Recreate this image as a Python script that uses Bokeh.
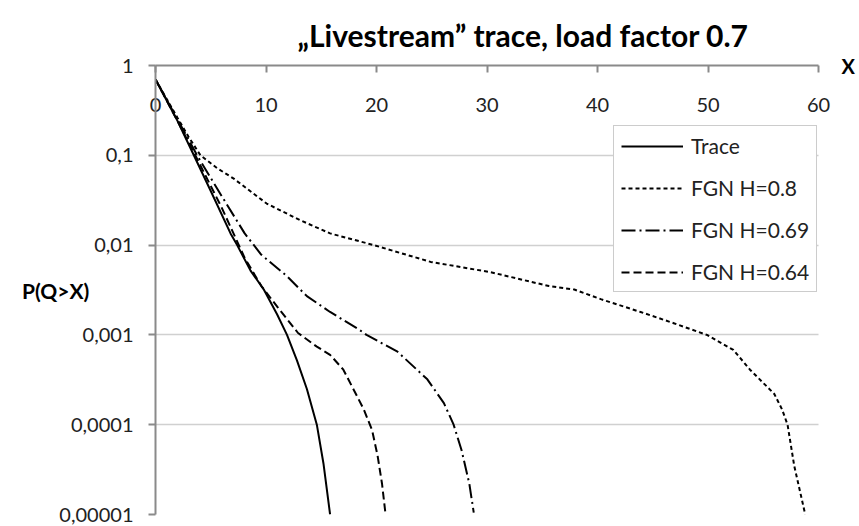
from bokeh.plotting import figure
from bokeh.models import FixedTicker, Legend, LegendItem, LogAxis
from bokeh.embed import file_html
from bokeh.resources import INLINE

# Axis ticks and labels
x_ticks = [0, 10, 20, 30, 40, 50, 60]
y_ticks = [1, 0.1, 0.01, 0.001, 0.0001, 0.00001]
y_tick_labels = ["1", "0,1", "0,01", "0,001", "0,0001", "0,00001"]

# Measured trace: queue length X vs. P(Q>X)
trace_x = [0, 1, 2, 3.47, 5, 6.79, 7.39, 8.6, 9.8, 11.0, 11.9, 12.8, 13.7, 14.6,
           15.2, 15.8]
trace_p = [0.7, 0.41, 0.24, 0.1, 0.04, 0.0135, 0.01, 0.0052, 0.0032, 0.0017,
           0.001, 0.00052, 0.00025, 0.0001, 0.000037, 0.00001]

# Fractional Gaussian noise models
fgn08_x = [0, 2, 3, 4.07, 5.57, 7.08, 10.06, 13.06, 15.8, 19.75, 24.9, 30.3, 35.6,
           37.9, 40.3, 43.9, 46.9, 49.9, 52.3, 53.8, 56.0, 56.7, 57.2, 57.8, 58.8]
fgn08_p = [0.7, 0.26, 0.16, 0.1, 0.072, 0.055, 0.029, 0.019, 0.0135, 0.01, 0.0065,
           0.005, 0.0035, 0.0032, 0.0025, 0.0018, 0.00135, 0.001, 0.00068, 0.00041,
           0.00022, 0.000148, 0.0001, 0.000035, 0.00001]

fgn069_x = [0, 2, 3.76, 6, 8.07, 9.58, 11.9, 13.7, 15.8, 18.4, 19.1, 21.9, 24.6,
            26.1, 26.98, 27.7, 28.4, 28.8]
fgn069_p = [0.7, 0.25, 0.1, 0.035, 0.0135, 0.0078, 0.0045, 0.0027, 0.0018, 0.00115,
            0.001, 0.00065, 0.00032, 0.000174, 0.0001, 0.000052, 0.000022, 0.0000105]

fgn064_x = [0, 2, 3.6, 6, 8.07, 9.58, 11.1, 12.9, 14.6, 15.8, 17.0, 17.9, 18.85,
            19.6, 20.1, 20.5, 20.8]
fgn064_p = [0.7, 0.24, 0.1, 0.026, 0.0072, 0.0035, 0.002, 0.00105, 0.00074, 0.0006,
            0.00041, 0.00025, 0.000148, 0.000087, 0.000045, 0.000022, 0.0000105]

FONT = "Lato"
AXIS_GREY = "#8a8a8a"
TEXT = "#222222"

p = figure(width=859, height=526, x_range=(0, 60), y_range=(0.00001, 1),
           y_axis_type="log", x_axis_location="above",
           output_backend="svg", toolbar_location=None,
           min_border_left=155, min_border_right=41,
           min_border_top=65, min_border_bottom=12)
p.outline_line_color = None
p.background_fill_color = "white"

p.title.text = "\u201eLivestream\u201d trace, load factor 0.7"
p.title.align = "left"
p.title.offset = 142
p.title.standoff = 25
p.title.text_font = FONT
p.title.text_font_style = "bold"
p.title.text_font_size = "30px"
p.title.text_color = "black"

# X axis along the top, labels sitting just inside the plot area
xa = p.xaxis[0]
xa.ticker = FixedTicker(ticks=x_ticks)
xa.minor_tick_line_color = None
xa.major_tick_in = 7
xa.major_tick_out = 0
xa.axis_line_color = AXIS_GREY
xa.axis_line_width = 2
xa.major_tick_line_color = AXIS_GREY
xa.major_tick_line_width = 2
xa.major_label_standoff = -46
xa.major_label_text_font = FONT
xa.major_label_text_font_size = "20px"
xa.major_label_text_color = TEXT

ya = p.yaxis[0]
ya.ticker = FixedTicker(ticks=y_ticks)
ya.major_label_overrides = dict(zip(y_ticks, y_tick_labels))
ya.minor_tick_line_color = None
ya.major_tick_in = 0
ya.major_tick_out = 7
ya.axis_line_color = AXIS_GREY
ya.axis_line_width = 2
ya.major_tick_line_color = AXIS_GREY
ya.major_tick_line_width = 2
ya.major_label_standoff = 15
ya.major_label_text_font = FONT
ya.major_label_text_font_size = "20px"
ya.major_label_text_color = TEXT
ya.axis_label = "P(Q>X)"
ya.axis_label_orientation = "horizontal"
ya.axis_label_standoff = -33
ya.axis_label_text_font = FONT
ya.axis_label_text_font_style = "bold"
ya.axis_label_text_font_size = "21px"
ya.axis_label_text_color = "black"

# Bare axis on the right that only carries the "X" caption at the top
xcap = LogAxis(ticker=FixedTicker(ticks=[]), axis_line_color=None,
               major_tick_line_color=None, minor_tick_line_color=None,
               major_label_text_font_size="0px",
               axis_label="X", axis_label_orientation="horizontal",
               axis_label_align="end", axis_label_standoff=23,
               axis_label_text_font=FONT, axis_label_text_font_style="bold",
               axis_label_text_font_size="20px", axis_label_text_color="black")
p.add_layout(xcap, "right")

p.xgrid.visible = False
p.ygrid.ticker = FixedTicker(ticks=y_ticks)
p.ygrid.grid_line_color = "#a0a0a0"
p.ygrid.grid_line_width = 1.5
p.ygrid.grid_line_dash = "1 1"

r_trace = p.line(trace_x, trace_p, line_color="black", line_width=2)
r_08 = p.line(fgn08_x, fgn08_p, line_color="black", line_width=2, line_dash="4 3")
r_069 = p.line(fgn069_x, fgn069_p, line_color="black", line_width=2,
               line_dash="14 4 2 4")
r_064 = p.line(fgn064_x, fgn064_p, line_color="black", line_width=2, line_dash="8 4")

legend = Legend(items=[
    LegendItem(label="Trace", renderers=[r_trace]),
    LegendItem(label="FGN H=0.8", renderers=[r_08]),
    LegendItem(label="FGN H=0.69", renderers=[r_069]),
    LegendItem(label="FGN H=0.64", renderers=[r_064]),
], location=(458, 222))
legend.border_line_color = "#999999"
legend.border_line_width = 1
legend.background_fill_color = "white"
legend.background_fill_alpha = 1
legend.padding = 7
legend.margin = 0
legend.spacing = 17
legend.glyph_width = 62
legend.glyph_height = 20
legend.label_height = 20
legend.label_standoff = 8
legend.label_text_font = FONT
legend.label_text_font_size = "21px"
legend.label_text_color = TEXT
p.add_layout(legend, "center")

open("out.html", "w").write(file_html(p, INLINE))
